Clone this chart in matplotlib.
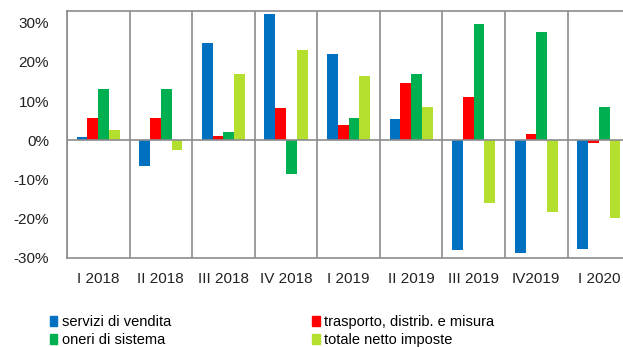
import matplotlib.pyplot as plt
import numpy as np
from matplotlib.patches import Patch
from matplotlib.ticker import PercentFormatter

plt.rcParams['font.family'] = ['Liberation Sans', 'DejaVu Sans']
plt.rcParams['axes.unicode_minus'] = False

trimestri = ["I 2018", "II 2018", "III 2018", "IV 2018", "I 2019",
             "II 2019", "III 2019", "IV2019", "I 2020"]
servizi_vendita = [0.8, -6.6, 24.8, 32.2, 22.0, 5.3, -28.0, -28.6, -27.6]
trasporto = [5.8, 5.8, 1.2, 8.1, 4.0, 14.7, 10.9, 1.7, -0.7]
oneri_sistema = [13.1, 13.1, 2.0, -8.5, 5.8, 17.0, 29.5, 27.6, 8.6]
totale_netto = [2.5, -2.5, 17.0, 22.9, 16.4, 8.6, -15.9, -18.3, -19.7]

serie = [
    ("servizi di vendita", servizi_vendita, "#0070C0"),
    ("trasporto, distrib. e misura", trasporto, "#FF0000"),
    ("oneri di sistema", oneri_sistema, "#00B050"),
    ("totale netto imposte", totale_netto, "#B5DF2E"),
]

fig = plt.figure(figsize=(6.23, 3.47), dpi=100)
ax = fig.add_axes([0.1075, 0.2565, 0.904, 0.7125])

x = np.arange(len(trimestri))
w = 0.172
for i, (nome, vals, col) in enumerate(serie):
    ax.bar(x + (i - 1.5) * w, vals, w, color=col, edgecolor='none', zorder=2)

ax.set_xlim(-0.5, len(trimestri) - 0.5)
ax.set_ylim(-30, 33)
ax.set_yticks([-30, -20, -10, 0, 10, 20, 30])
ax.yaxis.set_major_formatter(PercentFormatter(decimals=0))
ax.set_xticks(x)
ax.set_xticklabels(trimestri)
ax.tick_params(axis='both', length=0, labelsize=11, colors='#222222')
ax.tick_params(axis='x', pad=10)
ax.tick_params(axis='y', pad=13)

# separatori verticali tra i trimestri e linea dello zero
for b in np.arange(-0.5, len(trimestri), 1.0):
    ax.axvline(b, color='#8C8C8C', lw=1.2, zorder=1)
ax.axhline(0, color='#8C8C8C', lw=1.2, zorder=3)
for s in ax.spines.values():
    s.set_color('#8C8C8C')
    s.set_linewidth(1.2)

handles = [Patch(color=serie[k][2], label=serie[k][0]) for k in (0, 2, 1, 3)]
fig.legend(handles=handles, ncol=2, loc='upper left', bbox_to_anchor=(0.08, 0.092),
           frameon=False, fontsize=10.5, handlelength=0.5, handleheight=0.6,
           handletextpad=0.3, columnspacing=9.7, labelspacing=0.28,
           borderpad=0, borderaxespad=0)

fig.savefig("out.png", dpi=100)
